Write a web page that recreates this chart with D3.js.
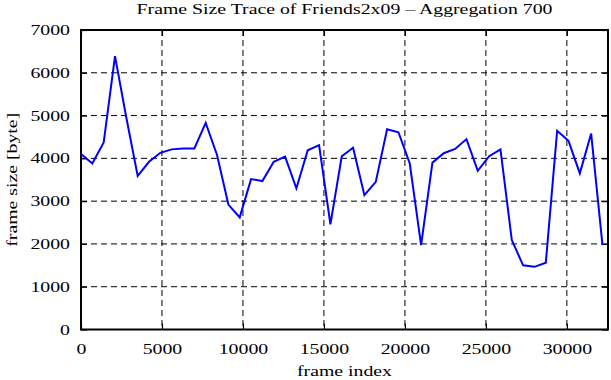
<!DOCTYPE html>
<html>
<head>
<meta charset="utf-8">
<script src="https://cdn.jsdelivr.net/npm/d3@7"></script>
<style>
  body { margin: 0; background: #fff; }
  text { font-family: "Liberation Serif", "DejaVu Serif", serif; fill: #000; }
</style>
</head>
<body>
<div id="chart"></div>
<script>
(function(){
  'use strict';

  // aggregated frame sizes, one value every 700 frames
  var aggregation = 700;
  var frameSizes = [4100, 3880, 4370, 6390, 4950, 3590, 3920, 4130, 4210, 4230,
                    4230, 4830, 4080, 2920, 2620, 3515, 3470, 3920, 4040, 3300,
                    4190, 4310, 2460, 4050, 4250, 3140, 3450, 4680, 4610, 3880,
                    1970, 3900, 4120, 4220, 4450, 3710, 4050, 4210, 2090, 1500,
                    1465, 1560, 4645, 4410, 3650, 4580, 1970];
  var xTicks = [0, 5000, 10000, 15000, 20000, 25000, 30000];
  var yTicks = [0, 1000, 2000, 3000, 4000, 5000, 6000, 7000];
  var xMax = 32540;

  var w = 611, h = 380,
      left = 81, right = 608, top = 30, bottom = 329.5,
      stretch = 'scale(1.32,1)';

  var svg = d3.select('#chart').append('svg')
    .attr('width', w)
    .attr('height', h);

  var x = d3.scaleLinear().domain([0, xMax]).range([left, right]);
  var y = d3.scaleLinear().domain([0, 7000]).range([bottom, top]);

  // dashed grid
  svg.append('g').selectAll('line')
    .data(xTicks.slice(1))
    .enter().append('line')
    .attr('x1', function(d){ return x(d); })
    .attr('x2', function(d){ return x(d); })
    .attr('y1', top).attr('y2', bottom)
    .style('stroke', '#000').style('stroke-width', 1)
    .style('stroke-dasharray', '6,4');

  svg.append('g').selectAll('line')
    .data(yTicks.slice(1, -1))
    .enter().append('line')
    .attr('x1', left).attr('x2', right)
    .attr('y1', function(d){ return y(d); })
    .attr('y2', function(d){ return y(d); })
    .style('stroke', '#000').style('stroke-width', 1)
    .style('stroke-dasharray', '6,4');

  // axes, ticks pointing inward on all four sides
  var fmt = d3.format('d');
  var gx = svg.append('g')
    .attr('transform', 'translate(0,' + bottom + ')')
    .call(d3.axisBottom(x).tickValues(xTicks).tickFormat(fmt).tickSizeInner(-6).tickSizeOuter(0));
  var gy = svg.append('g')
    .attr('transform', 'translate(' + left + ',0)')
    .call(d3.axisLeft(y).tickValues(yTicks).tickFormat(fmt).tickSizeInner(-6).tickSizeOuter(0));
  svg.append('g')
    .attr('transform', 'translate(0,' + top + ')')
    .call(d3.axisTop(x).tickValues(xTicks).tickSizeInner(-6).tickSizeOuter(0).tickFormat(''));
  svg.append('g')
    .attr('transform', 'translate(' + right + ',0)')
    .call(d3.axisRight(y).tickValues(yTicks).tickSizeInner(-6).tickSizeOuter(0).tickFormat(''));

  svg.selectAll('.domain').remove();
  svg.selectAll('g').attr('font-family', null).attr('font-size', null);
  svg.selectAll('.tick line').style('stroke', '#000').style('stroke-width', 1.2);

  gx.selectAll('.tick text')
    .attr('x', 0).attr('y', 24.5).attr('dy', null)
    .attr('text-anchor', 'middle')
    .attr('transform', stretch)
    .style('font-size', '15px');

  gy.selectAll('.tick text')
    .attr('x', 0).attr('y', 4.5).attr('dy', null)
    .attr('text-anchor', 'end')
    .attr('transform', 'translate(-11,0) ' + stretch)
    .style('font-size', '15px');

  // frame
  svg.append('rect')
    .attr('x', left).attr('y', top)
    .attr('width', right - left).attr('height', bottom - top)
    .style('fill', 'none').style('stroke', '#000').style('stroke-width', 2);

  // trace
  var line = d3.line()
    .x(function(d, i){ return x(i * aggregation); })
    .y(function(d){ return y(d); });

  svg.append('path')
    .datum(frameSizes)
    .attr('d', line)
    .style('fill', 'none')
    .style('stroke', '#0000ff')
    .style('stroke-width', 2);

  // labels
  svg.append('text')
    .attr('transform', 'translate(' + ((left + right) / 2) + ',13.5) ' + stretch)
    .attr('text-anchor', 'middle')
    .style('font-size', '15px')
    .text('Frame Size Trace of Friends2x09 \u2013 Aggregation 700');

  svg.append('text')
    .attr('transform', 'translate(' + ((left + right) / 2) + ',376) ' + stretch)
    .attr('text-anchor', 'middle')
    .style('font-size', '15px')
    .text('frame index');

  svg.append('text')
    .attr('transform', 'translate(17,' + ((top + bottom) / 2) + ') rotate(-90) ' + stretch)
    .attr('text-anchor', 'middle')
    .style('font-size', '15px')
    .text('frame size [byte]');
}());
</script>
</body>
</html>
